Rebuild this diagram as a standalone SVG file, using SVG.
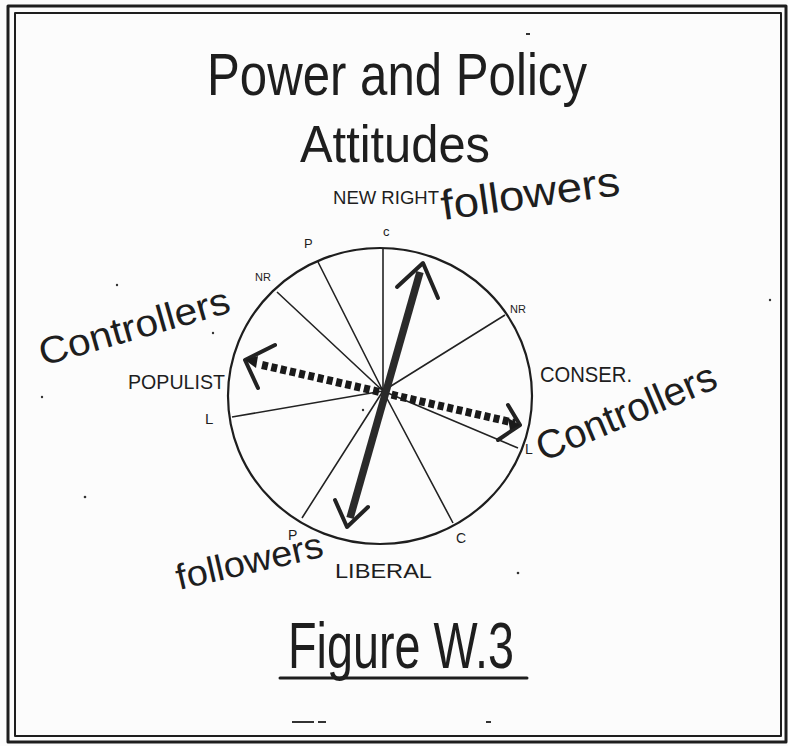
<svg xmlns="http://www.w3.org/2000/svg" width="788" height="746" viewBox="0 0 788 746">
<style>
.t{font-family:"Liberation Sans",Arial,sans-serif;fill:#1e1e1e}
.ln{stroke:#1e1e1e;fill:none;stroke-linecap:round;stroke-linejoin:round}
.sp{stroke:#222;stroke-width:1.6;fill:none}
.hd{stroke:#222;stroke-width:4;fill:none;stroke-linecap:round;stroke-linejoin:round}
</style>
<rect width="788" height="746" fill="#fcfcfc"/>
<g id="frame">
<rect x="8" y="6" width="778" height="736" class="ln" stroke-width="3"/>
<rect x="15" y="13" width="766" height="723" class="ln" stroke-width="2"/>
</g>
<g id="title">
<text class="t" x="207" y="95" font-size="60" textLength="380" lengthAdjust="spacingAndGlyphs">Power and Policy</text>
<text class="t" x="300" y="162" font-size="52" textLength="190" lengthAdjust="spacingAndGlyphs">Attitudes</text>
</g>
<g id="wheel">
<ellipse cx="380" cy="396" rx="152" ry="148" class="ln" stroke-width="2.2"/>
<path class="sp" d="M383 391L383 248M383 391L318 262M383 391L277 292M383 391L232 417M383 391L302 518M383 391L453 523M383 391L518 448M383 391L505 315"/>
</g>
<g id="connectors">
<line x1="262" y1="365" x2="515" y2="423" stroke="#1a1a1a" stroke-width="8" stroke-dasharray="6 3.5"/>
<polyline class="hd" points="275,345 245,360 258,388"/>
<polygon points="245,360 258,356 256,368" fill="#1a1a1a"/>
<polyline class="hd" points="508,405 520,425 498,440"/>
<polygon points="520,425 508,418 510,430" fill="#1a1a1a"/>
<line x1="420" y1="272" x2="350" y2="518" stroke="#2a2a2a" stroke-width="7.5"/>
<polyline class="hd" points="397,287 423,263 438,298"/>
<polyline class="hd" points="335,500 347,527 368,507"/>
</g>
<g id="labels">
<text class="t" x="333" y="204" font-size="18" textLength="106" lengthAdjust="spacingAndGlyphs">NEW  RIGHT</text>
<text class="t" font-size="42" textLength="180" lengthAdjust="spacingAndGlyphs" transform="translate(443,220) rotate(-8)">followers</text>
<text class="t" x="383" y="236" font-size="13">c</text>
<text class="t" x="304" y="248" font-size="13">P</text>
<text class="t" x="255" y="281" font-size="11">NR</text>
<text class="t" x="510" y="313" font-size="11">NR</text>
<text class="t" font-size="38" textLength="197" lengthAdjust="spacingAndGlyphs" transform="translate(43,366) rotate(-15.9)">Controllers</text>
<text class="t" x="128" y="389" font-size="21" textLength="97" lengthAdjust="spacingAndGlyphs">POPULIST</text>
<text class="t" x="205" y="424" font-size="15">L</text>
<text class="t" x="540" y="382" font-size="22" textLength="92" lengthAdjust="spacingAndGlyphs">CONSER.</text>
<text class="t" font-size="40" textLength="192" lengthAdjust="spacingAndGlyphs" transform="translate(543,462) rotate(-23)">Controllers</text>
<text class="t" x="525" y="454" font-size="14">L</text>
<text class="t" x="288" y="540" font-size="14">P</text>
<text class="t" x="456" y="543" font-size="14">C</text>
<text class="t" font-size="36" textLength="150" lengthAdjust="spacingAndGlyphs" transform="translate(179,590) rotate(-13)">followers</text>
<text class="t" x="335" y="578" font-size="21" textLength="97" lengthAdjust="spacingAndGlyphs">LIBERAL</text>
<text class="t" x="288" y="668" font-size="64" textLength="226" lengthAdjust="spacingAndGlyphs">Figure W.3</text>
<line x1="280" y1="678" x2="527" y2="678" class="ln" stroke-width="3"/>
</g>
<g id="marks" fill="#333">
<rect x="526" y="33" width="4" height="2"/>
<rect x="292" y="721" width="22" height="2"/>
<rect x="318" y="721" width="8" height="2"/>
<rect x="486" y="721" width="5" height="2"/>
<circle cx="117" cy="285" r="1.2"/>
<circle cx="213" cy="333" r="1.2"/>
<circle cx="42" cy="397" r="1.2"/>
<circle cx="363" cy="410" r="1.2"/>
<circle cx="518" cy="573" r="1.3"/>
<circle cx="85" cy="497" r="1.3"/>
<circle cx="770" cy="300" r="1.2"/>
</g>
</svg>
